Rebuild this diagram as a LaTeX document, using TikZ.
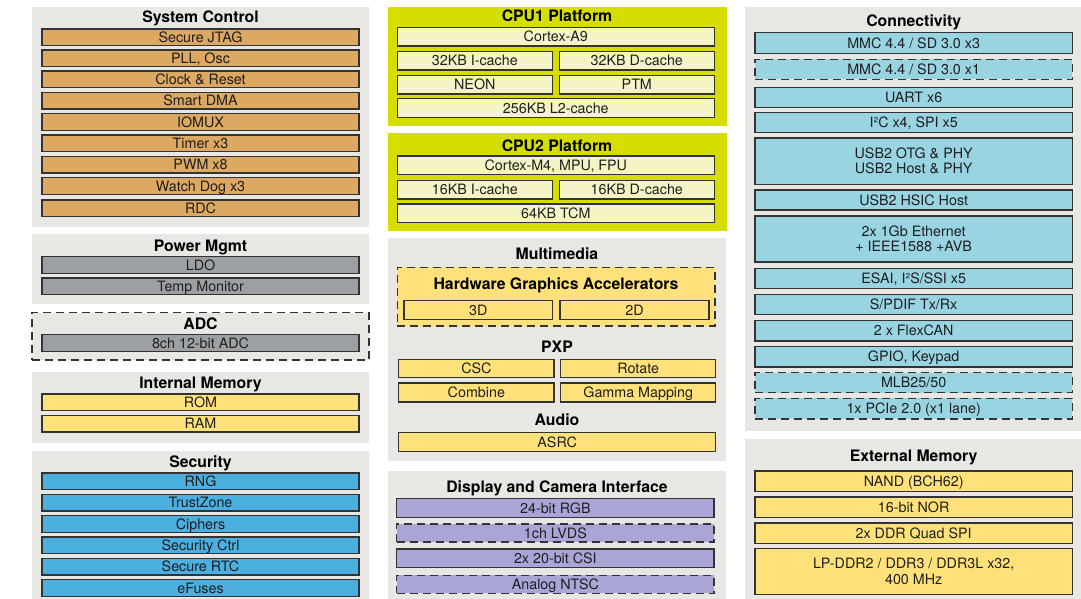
\documentclass[tikz,border=0pt]{standalone}
\usepackage{fontspec}
\setmainfont{TeX Gyre Heros}
\definecolor{panelbg}{HTML}{E8E7E3}
\definecolor{linec}{HTML}{333333}
\definecolor{txtc}{HTML}{1E1E1E}
\definecolor{cOr}{HTML}{DCA862}
\definecolor{cGy}{HTML}{9DA0A3}
\definecolor{cYe}{HTML}{FEE17B}
\definecolor{cBl}{HTML}{4BAFE0}
\definecolor{cCpu}{HTML}{D5DE00}
\definecolor{cCr}{HTML}{F5F4C6}
\definecolor{cLa}{HTML}{A9A6D7}
\definecolor{cLb}{HTML}{99D4E2}
\newcommand\itemfont{\fontsize{14.3pt}{15.3pt}\selectfont}
\newcommand\titlefont{\fontsize{15.8pt}{18pt}\selectfont\bfseries}
% \bx[style]{name}{x1}{y1}{x2}{y2}{text}
\newcommand{\bx}[7][]{\node[#1, minimum width={(#5-#3)*1pt}, minimum height={(#6-#4)*1pt}] (#2) at ({(#3+#5)/2},{(#4+#6)/2}) {#7};}
\tikzset{
  panel/.style={fill=panelbg, draw=none, inner sep=0pt, outer sep=0pt},
  dpanel/.style={panel, draw=linec, line width=1.2pt, dash pattern=on 8pt off 5pt},
  cpupanel/.style={fill=cCpu, draw=none, inner sep=0pt, outer sep=0pt},
  itm/.style={draw=linec, line width=1.2pt, inner sep=0pt, outer sep=0pt, font=\itemfont, text=txtc, text height=10.2pt, text depth=0pt},
  itmtwo/.style={draw=linec, line width=1.2pt, inner sep=0pt, outer sep=0pt, font=\itemfont, text=txtc, align=center},
  dsh/.style={dash pattern=on 8pt off 5pt},
  ttl/.style={font=\titlefont, text=black, inner sep=0pt, text height=11.3pt, text depth=0pt},
  fOr/.style={fill=cOr}, fGy/.style={fill=cGy}, fYe/.style={fill=cYe},
  fBl/.style={fill=cBl}, fCr/.style={fill=cCr}, fLa/.style={fill=cLa}, fLb/.style={fill=cLb}
}
\begin{document}
\begin{tikzpicture}[x=1pt,y=-1pt]
\useasboundingbox (0,0) rectangle (1081,599);
% ---------------- Left column ----------------
\bx[panel]{pSys}{32}{7}{369}{227}{}
\node[ttl] (tSys) at (200.5,17.2) {System Control};
\bx[itm,fOr]{s1}{42}{29}{359}{45.7}{Secure JTAG}
\bx[itm,fOr]{s2}{42}{50}{359}{66.7}{PLL, Osc}
\bx[itm,fOr]{s3}{42}{71}{359}{87.7}{Clock \& Reset}
\bx[itm,fOr]{s4}{42}{92.3}{359}{109}{Smart DMA}
\bx[itm,fOr]{s5}{42}{113.7}{359}{130.3}{IOMUX}
\bx[itm,fOr]{s6}{42}{135}{359}{151.7}{Timer x3}
\bx[itm,fOr]{s7}{42}{156.3}{359}{173}{PWM x8}
\bx[itm,fOr]{s8}{42}{177.7}{359}{194.3}{Watch Dog x3}
\bx[itm,fOr]{s9}{42}{200}{359}{216.7}{RDC}

\bx[panel]{pPow}{32}{234}{369}{304.3}{}
\node[ttl] (tPow) at (200.5,245.7) {Power Mgmt};
\bx[itm,fGy]{pw1}{42}{256.7}{359}{273.3}{LDO}
\bx[itm,fGy]{pw2}{42}{278}{359}{294.7}{Temp Monitor}

\bx[dpanel]{pAdc}{32}{312.7}{369}{360}{}
\node[ttl] (tAdc) at (200.5,324.3) {ADC};
\bx[itm,fGy]{ad1}{42}{334.7}{359}{351.3}{8ch 12-bit ADC}

\bx[panel]{pIm}{32}{372}{369}{442.7}{}
\node[ttl] (tIm) at (200.5,382.7) {Internal Memory};
\bx[itm,fYe]{im1}{42}{394}{359}{410.7}{ROM}
\bx[itm,fYe]{im2}{42}{415.3}{359}{432}{RAM}

\bx[panel]{pSec}{32}{451}{369}{599}{}
\node[ttl] (tSec) at (200.5,461.7) {Security};
\bx[itm,fBl]{se1}{42}{473}{359}{489.7}{RNG}
\bx[itm,fBl]{se2}{42}{494.3}{359}{511}{TrustZone}
\bx[itm,fBl]{se3}{42}{515.7}{359}{532.3}{Ciphers}
\bx[itm,fBl]{se4}{42}{537}{359}{553.7}{Security Ctrl}
\bx[itm,fBl]{se5}{42}{558.3}{359}{575}{Secure RTC}
\bx[itm,fBl]{se6}{42}{579.7}{359}{596.3}{eFuses}

% ---------------- Middle column ----------------
\bx[cpupanel]{pCpu1}{387.5}{7.3}{726.5}{125.7}{}
\node[ttl] (tCpu1) at (557,16) {CPU1 Platform};
\bx[itm,fCr]{c1}{397.3}{27.3}{714.3}{46}{Cortex-A9}
\bx[itm,fCr]{c2}{397.3}{51.3}{552.3}{70}{32KB I-cache}
\bx[itm,fCr]{c3}{559.3}{51.3}{714.3}{70}{32KB D-cache}
\bx[itm,fCr]{c4}{397.3}{75.3}{552.3}{94}{NEON}
\bx[itm,fCr]{c5}{559.3}{75.3}{714.3}{94}{PTM}
\bx[itm,fCr]{c6}{397.3}{98.7}{714.3}{117.3}{256KB L2-cache}

\bx[cpupanel]{pCpu2}{387.5}{133.3}{726.5}{230.7}{}
\node[ttl] (tCpu2) at (557,145.7) {CPU2 Platform};
\bx[itm,fCr]{d1}{397.3}{156}{714.3}{174.7}{Cortex-M4, MPU, FPU}
\bx[itm,fCr]{d2}{397.3}{180.3}{552.3}{199}{16KB I-cache}
\bx[itm,fCr]{d3}{559.3}{180.3}{714.3}{199}{16KB D-cache}
\bx[itm,fCr]{d4}{397.3}{204}{714.3}{222.7}{64KB TCM}

\bx[panel]{pMm}{387.5}{238.3}{726}{460.7}{}
\node[ttl] (tMm) at (557,254) {Multimedia};
\bx[panel,fYe,draw=linec,line width=1.2pt,dsh]{pHga}{397.3}{267.3}{715}{326}{}
\node[ttl] (tHga) at (556,284.3) {Hardware Graphics Accelerators};
\bx[itm,fYe]{g1}{404}{300.7}{552.7}{319.3}{3D}
\bx[itm,fYe]{g2}{560}{300.7}{709}{319.3}{2D}
\node[ttl] (tPxp) at (557,346.7) {PXP};
\bx[itm,fYe]{x1}{398.7}{359.3}{554}{377.7}{CSC}
\bx[itm,fYe]{x2}{560.7}{359.3}{715.7}{377.7}{Rotate}
\bx[itm,fYe]{x3}{398.7}{383}{554}{402}{Combine}
\bx[itm,fYe]{x4}{560.7}{383}{715.7}{402}{Gamma Mapping}
\node[ttl] (tAud) at (557,420) {Audio};
\bx[itm,fYe]{au1}{398.7}{432.7}{715.7}{451.3}{ASRC}

\bx[panel]{pDisp}{387.5}{471}{726}{599}{}
\node[ttl] (tDisp) at (557,486.7) {Display and Camera Interface};
\bx[itm,fLa]{v1}{396.7}{498.7}{714}{517.3}{24-bit RGB}
\bx[itm,fLa,dsh]{v2}{396.7}{524}{714}{542}{1ch LVDS}
\bx[itm,fLa]{v3}{396.7}{549}{714}{567.3}{2x 20-bit CSI}
\bx[itm,fLa,dsh]{v4}{396.7}{575.3}{714}{593.3}{Analog NTSC}

% ---------------- Right column ----------------
\bx[panel]{pConn}{745}{7.3}{1081}{430.7}{}
\node[ttl] (tConn) at (913.7,21) {Connectivity};
\bx[itm,fLb]{k1}{755}{32.7}{1072.3}{53.3}{MMC 4.4 / SD 3.0 x3}
\bx[itm,fLb,dsh]{k2}{755}{59.3}{1072.3}{79.3}{MMC 4.4 / SD 3.0 x1}
\bx[itm,fLb]{k3}{755}{87.3}{1072.3}{107.3}{UART x6}
\bx[itm,fLb]{k4}{755}{112.7}{1072.3}{132.7}{I²C x4, SPI x5}
\bx[itmtwo,fLb]{k5}{755}{138}{1072.3}{184.3}{USB2 OTG \& PHY\\USB2 Host \& PHY}
\bx[itm,fLb]{k6}{755}{190}{1072.3}{210}{USB2 HSIC Host}
\bx[itmtwo,fLb]{k7}{755}{216}{1072.3}{262}{2x 1Gb Ethernet\\+ IEEE1588 +AVB}
\bx[itm,fLb]{k8}{755}{268.3}{1072.3}{288.7}{ESAI, I²S/SSI x5}
\bx[itm,fLb]{k9}{755}{294.3}{1072.3}{314.7}{S/PDIF Tx/Rx}
\bx[itm,fLb]{k10}{755}{320.7}{1072.3}{341}{2 x FlexCAN}
\bx[itm,fLb]{k11}{755}{346.3}{1072.3}{367}{GPIO, Keypad}
\bx[itm,fLb,dsh]{k12}{755}{372.7}{1072.3}{392.7}{MLB25/50}
\bx[itm,fLb,dsh]{k13}{755}{398.3}{1072.3}{419}{1x PCIe 2.0 (x1 lane)}

\bx[panel]{pExt}{745}{439}{1081}{599}{}
\node[ttl] (tExt) at (913.7,455.7) {External Memory};
\bx[itm,fYe]{e1}{755}{471}{1072.3}{491.7}{NAND (BCH62)}
\bx[itm,fYe]{e2}{755}{497}{1072.3}{517.3}{16-bit NOR}
\bx[itm,fYe]{e3}{755}{523}{1072.3}{543.3}{2x DDR Quad SPI}
\bx[itmtwo,fYe]{e4}{755}{548.3}{1072.3}{594.7}{LP-DDR2 / DDR3 / DDR3L x32,\\400 MHz}
\end{tikzpicture}
\end{document}
